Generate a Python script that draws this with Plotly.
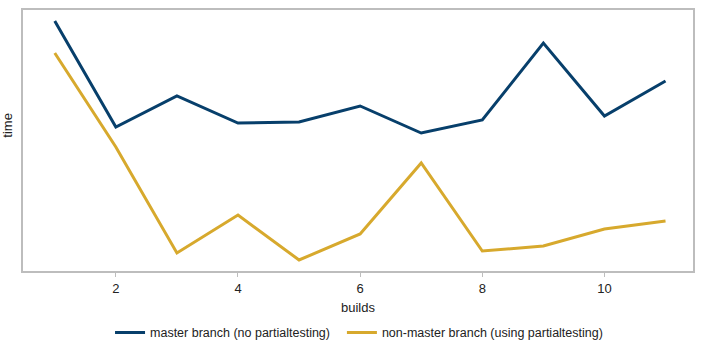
import plotly.graph_objects as go

builds = [1, 2, 3, 4, 5, 6, 7, 8, 9, 10, 11]
master_time = [250, 144, 175, 148, 149, 165, 138, 151, 228, 155, 190]
nonmaster_time = [218, 124, 18, 56, 11, 37, 108, 20, 25, 42, 50]
x_ticks = [2, 4, 6, 8, 10]

fig = go.Figure()
fig.add_trace(go.Scatter(x=builds, y=master_time, mode="lines",
                         name="master branch (no partialtesting)",
                         line=dict(color="#073f6b", width=3), legend="legend"))
fig.add_trace(go.Scatter(x=builds, y=nonmaster_time, mode="lines",
                         name="non-master branch (using partialtesting)",
                         line=dict(color="#d7a92d", width=3), legend="legend2"))

axis_col = "#bdbdbd"
leg_common = dict(orientation="h", xanchor="left", y=-0.237, yanchor="middle",
                  font=dict(size=12.5), itemwidth=30, bgcolor="rgba(0,0,0,0)")
fig.update_layout(
    width=701, height=351,
    margin=dict(l=23, r=8, t=10, b=80, autoexpand=False),
    plot_bgcolor="white", paper_bgcolor="white",
    font=dict(family="Liberation Sans, Arial, sans-serif", size=13, color="#222222"),
    showlegend=True,
    legend=dict(x=0.1299, **leg_common),
    legend2=dict(x=0.476, **leg_common),
    xaxis=dict(range=[0.48, 11.45], tickvals=x_ticks, showgrid=False, zeroline=False,
               showline=True, linecolor=axis_col, linewidth=2, mirror=True,
               ticks="outside", ticklen=4, tickcolor=axis_col, tickwidth=1,
               automargin=False,
               title=dict(text="builds", standoff=8, font=dict(size=13))),
    yaxis=dict(range=[0, 261], showticklabels=False, showgrid=False, zeroline=False,
               showline=True, linecolor=axis_col, linewidth=2, mirror=True, ticks="",
               automargin=False),
    annotations=[dict(text="time", xref="paper", yref="paper", x=-0.023, y=0.559,
                      xanchor="center", yanchor="middle", textangle=-90,
                      showarrow=False, font=dict(size=13))],
)

fig.write_html("out.html")
